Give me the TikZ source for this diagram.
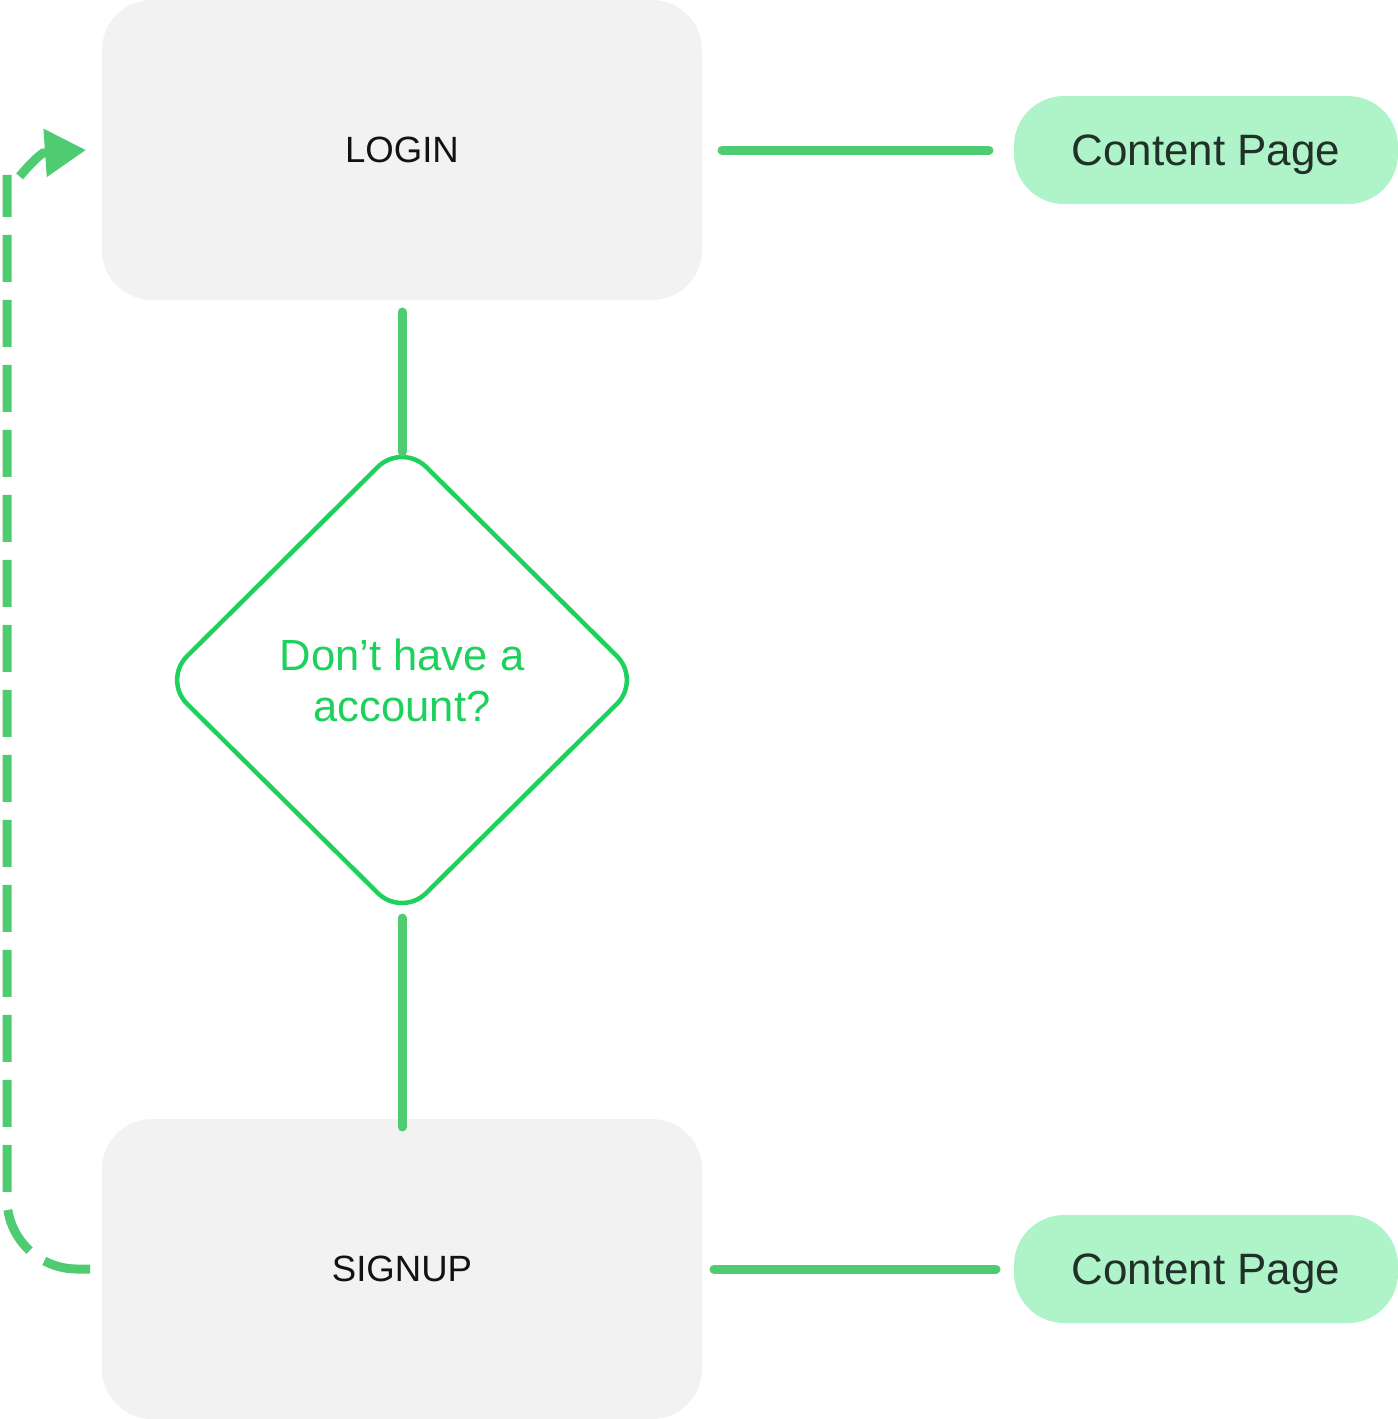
\documentclass[tikz,border=0pt]{standalone}
\usepackage{fontspec}
\setmainfont{Liberation Sans}
\usetikzlibrary{positioning,shapes.geometric,arrows.meta}
\definecolor{screengray}{HTML}{F2F2F2}
\definecolor{linkgreen}{HTML}{4FCC72}
\definecolor{askgreen}{HTML}{1DD15C}
\definecolor{pagegreen}{HTML}{AFF4C8}
\definecolor{pagetext}{HTML}{22302A}

\begin{document}
\begin{tikzpicture}[
    screen/.style={
        rectangle,
        rounded corners=0.5cm,
        fill=screengray,
        minimum width=6cm,
        minimum height=3cm,
        outer sep=0pt,
        text=black!93,
        font=\fontsize{10.4}{12}\selectfont
    },
    page/.style={
        rectangle,
        rounded corners=0.5cm,
        fill=pagegreen,
        minimum width=3.84cm,
        minimum height=1.08cm,
        text depth=0pt,
        outer sep=0pt,
        text=pagetext,
        font=\fontsize{12.5}{14}\selectfont
    },
    question/.style={
        diamond,
        draw=askgreen,
        line width=0.045cm,
        rounded corners=0.34cm,
        minimum width=4.78cm,
        minimum height=4.74cm,
        inner sep=0pt,
        outer sep=0pt,
        align=center,
        text=askgreen,
        font=\fontsize{12.4}{14.5}\selectfont
    },
    link/.style={line width=0.09cm, linkgreen, line cap=round},
    back/.style={line width=0.09cm, linkgreen, dash pattern=on 0.47cm off 0.18cm,
        -{Triangle[length=0.41cm,width=0.46cm]}}
]
    \useasboundingbox (0,0) rectangle (13.98,-14.19);

    % Screens
    \node[screen] (login) at (4.02,-1.5) {LOGIN};
    \node[question] (account) [below=1.43cm of login] {Don’t have a\\account?};
    \node[screen] (signup) [below=2.02cm of account] {SIGNUP};

    % Content pages
    \node[page] (loginpage) [right=3.12cm of login] {Content Page};
    \node[page] (signuppage) [right=3.12cm of signup] {Content Page};

    % Flow
    \draw[link, shorten <=0.12cm, shorten >=-0.09cm] (login) -- (account);
    \draw[link, shorten <=0.01cm, shorten >=-0.08cm] (account) -- (signup);
    \draw[link, shorten <=0.2cm, shorten >=0.25cm] (login) -- (loginpage);
    \draw[link, shorten <=0.12cm, shorten >=0.18cm] (signup) -- (signuppage);

    % Back to login
    \draw[back, rounded corners=0.7cm] ([xshift=-0.12cm]signup.west)
        -| ([xshift=-0.95cm,yshift=-0.95cm]login.west)
        [sharp corners] .. controls ([xshift=-0.95cm,yshift=-0.5cm]login.west)
        and ([xshift=-0.8cm,yshift=-0.18cm]login.west) .. ([xshift=-0.59cm,yshift=-0.03cm]login.west)
        -- ([xshift=-0.16cm]login.west);

\end{tikzpicture}
\end{document}
